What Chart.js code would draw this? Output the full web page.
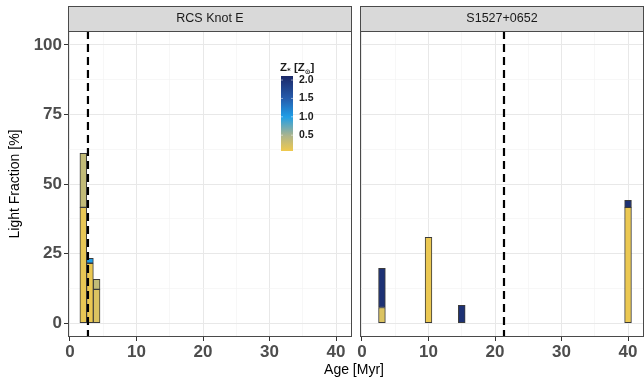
<!DOCTYPE html>
<html>
<head>
<meta charset="utf-8">
<script src="https://cdn.jsdelivr.net/npm/chart.js@4"></script>
<style>
  body { margin: 0; background: #fff; }
  #wrap { position: relative; width: 644px; height: 379px; overflow: hidden; }
  #leftBox { position: absolute; left: 0; top: 0; width: 356px; height: 379px; }
  #rightBox { position: absolute; left: 356px; top: 0; width: 288px; height: 379px; }
  #xTitle { position: absolute; left: 0; width: 708px; top: 361px; text-align: center;
            font: 14px "Liberation Sans", Arial, sans-serif; color: #000; }
</style>
</head>
<body>
<div id="wrap">
  <div id="leftBox"><canvas id="leftChart"></canvas></div>
  <div id="rightBox"><canvas id="rightChart"></canvas></div>
  <div id="xTitle">Age [Myr]</div>
</div>
<script>
// ===== Data =====
const panelNames = ["RCS Knot E", "S1527+0652"];

const knotAges = [2, 3, 4];
const knotLower = [41.6, 21.5, 12.1];
const knotUpper = [19.4, 1.8, 3.6];
const knotLowerZ = [0.12, 0.1, 0.2];
const knotUpperZ = [0.35, 1.0, 0.35];
const knotAgeLine = 2.7;

const sAges = [3, 10, 15, 40];
const sLower = [5.6, 30.8, 6.4, 41.6];
const sUpper = [14.1, null, null, 2.5];
const sLowerZ = [0.2, 0.1, 2.0, 0.1];
const sUpperZ = [2.0, 2.0, 2.0, 2.0];
const sAgeLine = 21.35;

const xTicks = [0, 10, 20, 30, 40];
const yTicks = [0, 25, 50, 75, 100];
const zTicks = [0.5, 1.0, 1.5, 2.0];

// ===== Colour map for Z =====
const zMin = 0.07, zMax = 2.11;
const colorStops = [
  [0.07, [240, 201, 77]],
  [0.5, [170, 180, 142]],
  [1.0, [30, 158, 232]],
  [1.5, [38, 92, 172]],
  [2.11, [27, 40, 104]]
];

function zColor(z) {
  z = Math.max(zMin, Math.min(zMax, z));
  for (let i = 1; i < colorStops.length; i++) {
    const [z1, c1] = colorStops[i];
    const [z0, c0] = colorStops[i - 1];
    if (z <= z1) {
      const t = (z - z0) / (z1 - z0);
      const c = c0.map((v, k) => Math.round(v + (c1[k] - v) * t));
      return `rgb(${c[0]},${c[1]},${c[2]})`;
    }
  }
  const c = colorStops[colorStops.length - 1][1];
  return `rgb(${c[0]},${c[1]},${c[2]})`;
}

const tickFont = { family: "'Liberation Sans', Arial, sans-serif", size: 17, weight: 'bold' };

// ===== Panel decorations: grid border, strip, dashed line =====
function panelPlugin(name, ageLine) {
  return {
    id: 'panel',
    afterDatasetsDraw(chart) {
      const { ctx, chartArea: a, scales } = chart;
      // dashed age line
      const px = scales.x.getPixelForValue(ageLine);
      ctx.save();
      ctx.strokeStyle = '#000';
      ctx.lineWidth = 2.2;
      ctx.setLineDash([8, 5]);
      ctx.beginPath();
      ctx.moveTo(px, a.top);
      ctx.lineTo(px, a.bottom);
      ctx.stroke();
      ctx.restore();
    },
    afterDraw(chart) {
      const { ctx, chartArea: a } = chart;
      ctx.save();
      ctx.strokeStyle = '#4a4a4a';
      ctx.lineWidth = 1;
      ctx.strokeRect(a.left + 0.5, a.top + 0.5, a.right - a.left - 1, a.bottom - a.top - 1);
      // strip
      ctx.fillStyle = '#d9d9d9';
      ctx.fillRect(a.left, 6, a.right - a.left, a.top - 6);
      ctx.strokeRect(a.left + 0.5, 6.5, a.right - a.left - 1, a.top - 6);
      ctx.fillStyle = '#1a1a1a';
      ctx.font = "12.5px 'Liberation Sans', Arial, sans-serif";
      ctx.textAlign = 'center';
      ctx.textBaseline = 'middle';
      ctx.fillText(name, (a.left + a.right) / 2, 19);
      ctx.restore();
    }
  };
}

// ===== Colour bar legend =====
const colorbarPlugin = {
  id: 'colorbar',
  afterDraw(chart) {
    const ctx = chart.ctx;
    const x = 281, top = 76, w = 12, h = 75;
    const grad = ctx.createLinearGradient(0, top + h, 0, top);
    for (let i = 0; i <= 20; i++) {
      const z = zMin + (zMax - zMin) * i / 20;
      grad.addColorStop(i / 20, zColor(z));
    }
    ctx.save();
    ctx.fillStyle = grad;
    ctx.fillRect(x, top, w, h);
    ctx.fillStyle = '#1a1a1a';
    ctx.font = "bold 10.5px 'Liberation Sans', Arial, sans-serif";
    ctx.textBaseline = 'middle';
    ctx.textAlign = 'left';
    ctx.strokeStyle = 'rgba(255,255,255,0.6)';
    ctx.lineWidth = 0.8;
    zTicks.forEach(z => {
      const y = top + h - (z - zMin) / (zMax - zMin) * h;
      ctx.beginPath();
      ctx.moveTo(x, y); ctx.lineTo(x + 2, y);
      ctx.moveTo(x + w - 2, y); ctx.lineTo(x + w, y);
      ctx.stroke();
      ctx.fillText(z.toFixed(1), x + w + 6, y);
    });
    // title Z* [Zsun]
    ctx.textBaseline = 'alphabetic';
    let tx = x - 1;
    const ty = 71;
    const big = "bold 11.5px 'Liberation Sans', Arial, sans-serif";
    const small = "bold 7px 'DejaVu Sans', sans-serif";
    const parts = [["Z", big, 0], ["*", small, 2], [" [Z", big, 0], ["\u2299", small, 3], ["]", big, 0]];
    parts.forEach(([t, f, dy]) => {
      ctx.font = f;
      ctx.fillText(t, tx, ty + dy);
      tx += ctx.measureText(t).width;
    });
    ctx.restore();
  }
};

function isMinor(c, step) {
  return !c.tick || c.tick.value % step !== 0;
}

function makeScales(xMin, xMax, showY) {
  return {
    x: {
      type: 'linear', stacked: true, min: xMin, max: xMax, offset: false,
      afterFit: s => { s.height = 42; },
      ticks: {
        stepSize: 5, includeBounds: false, autoSkip: false, maxRotation: 0,
        font: tickFont, color: '#4d4d4d', padding: 1,
        callback: v => (xTicks.includes(v) ? String(v) : '')
      },
      grid: {
        offset: false,
        color: c => (isMinor(c, 10) ? '#f3f3f3' : '#e8e8e8'),
        lineWidth: c => (isMinor(c, 10) ? 0.7 : 1),
        tickColor: c => (isMinor(c, 10) ? 'rgba(0,0,0,0)' : '#333'),
        tickLength: 4
      },
      border: { display: false }
    },
    y: {
      stacked: true, min: -5, max: 105,
      afterFit: s => { s.width = showY ? 68 : 0; },
      title: {
        display: showY, text: 'Light Fraction [%]', color: '#000',
        font: { family: "'Liberation Sans', Arial, sans-serif", size: 14 }, padding: { top: 7, bottom: 4 }
      },
      ticks: {
        display: showY, stepSize: 12.5, autoSkip: false, includeBounds: false,
        font: tickFont, color: '#4d4d4d', padding: 2,
        callback: v => (yTicks.includes(v) ? String(v) : '')
      },
      grid: {
        color: c => (isMinor(c, 25) ? '#f3f3f3' : '#e8e8e8'),
        lineWidth: c => (isMinor(c, 25) ? 0.7 : 1),
        tickColor: c => (isMinor(c, 25) || !showY ? 'rgba(0,0,0,0)' : '#333'),
        tickLength: 4,
        drawTicks: showY
      },
      border: { display: false }
    }
  };
}

function makePanel(canvasId, name, ages, lower, upper, lowerZ, upperZ, ageLine, showY, extra) {
  return new Chart(document.getElementById(canvasId), {
    type: 'bar',
    data: {
      datasets: [
        {
          label: 'lower',
          data: ages.map((a, i) => ({ x: a, y: lower[i] })),
          backgroundColor: lowerZ.map(zColor),
          borderColor: '#3a3a3a', borderWidth: 1, borderSkipped: false,
          barThickness: 6.8
        },
        {
          label: 'upper',
          data: ages.map((a, i) => ({ x: a, y: upper[i] })),
          backgroundColor: upperZ.map(zColor),
          borderColor: '#3a3a3a', borderWidth: 1, borderSkipped: false,
          barThickness: 6.8
        }
      ]
    },
    options: {
      responsive: true,
      maintainAspectRatio: false,
      animation: false,
      layout: { padding: { top: 31, left: showY ? 0 : 4, right: showY ? 4 : 0, bottom: 0 } },
      plugins: { legend: { display: false }, tooltip: { enabled: false } },
      scales: makeScales(-0.3, 42.4, showY)
    },
    plugins: [panelPlugin(name, ageLine)].concat(extra)
  });
}

makePanel('leftChart', panelNames[0], knotAges, knotLower, knotUpper, knotLowerZ, knotUpperZ, knotAgeLine, true, [colorbarPlugin]);
makePanel('rightChart', panelNames[1], sAges, sLower, sUpper, sLowerZ, sUpperZ, sAgeLine, false, []);
</script>
</body>
</html>
